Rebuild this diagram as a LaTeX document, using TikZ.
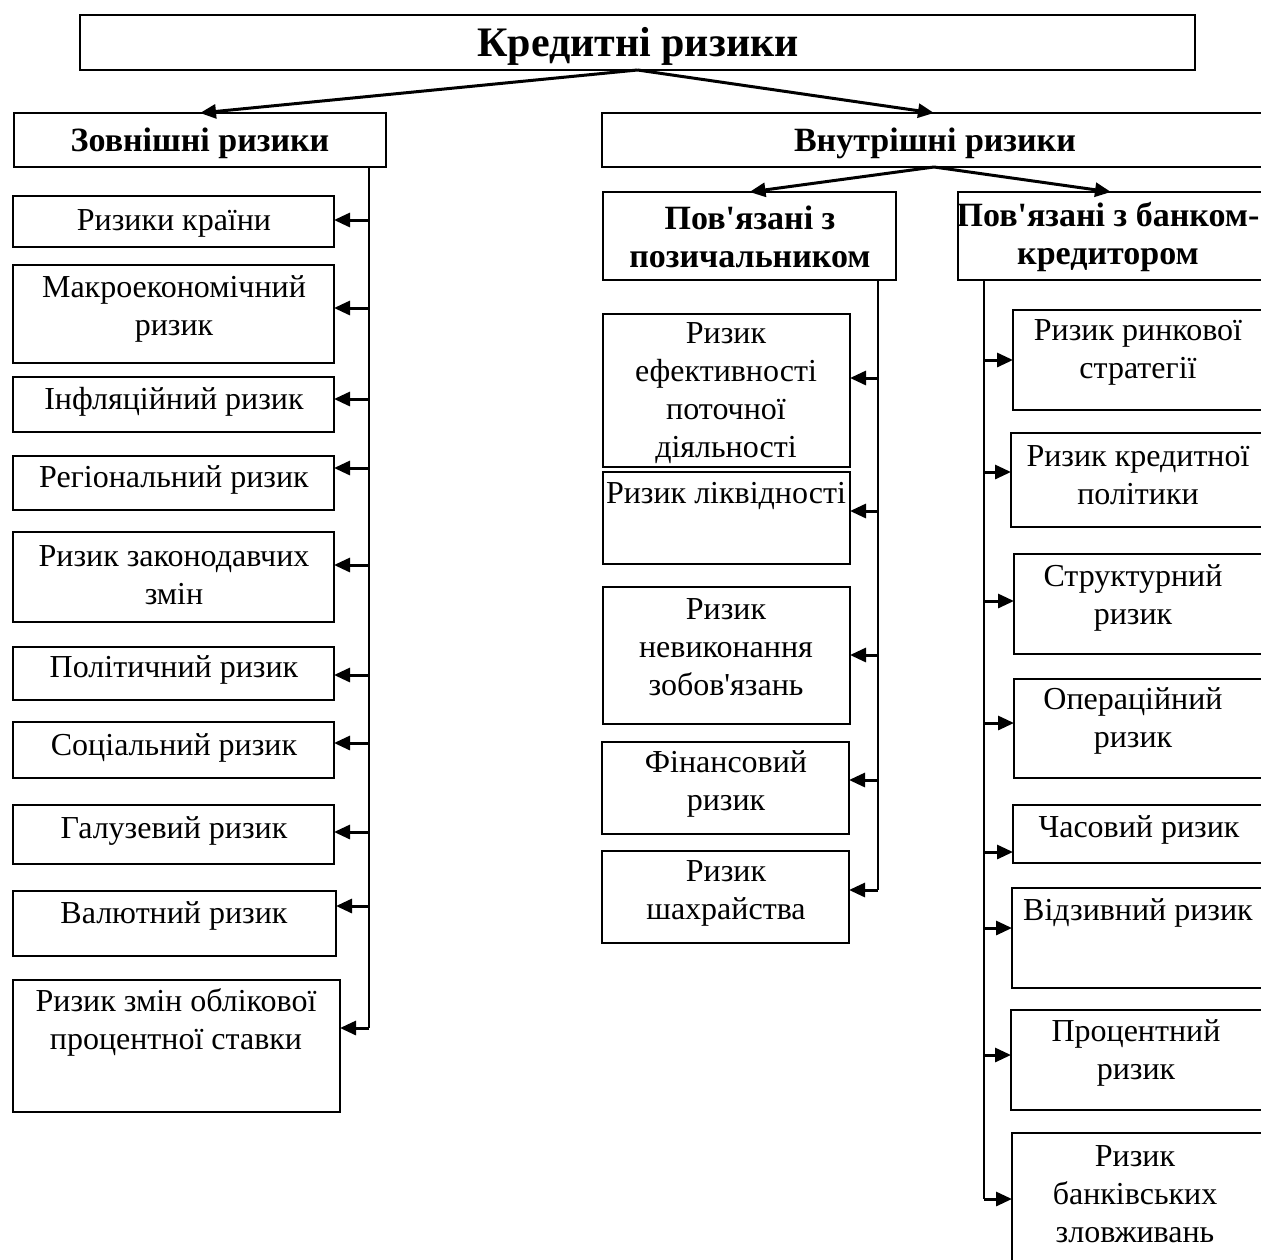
\documentclass[tikz,border=0pt]{standalone}
\usepackage{fontspec}
\setmainfont{Liberation Serif}
\usetikzlibrary{arrows.meta}
\newcommand\mybox[5]{%
  \pgfmathsetmacro\myw{#3-#2}\pgfmathsetmacro\myh{#5-#4}%
  \pgfmathsetmacro\mycx{(#2+#3)/2}\pgfmathsetmacro\mycy{(#4+#5)/2}%
  \node[box, minimum width=\myw pt, minimum height=\myh pt] (#1) at (\mycx,\mycy) {};}
\newcommand\ap{\textquotesingle}
\begin{document}
\begin{tikzpicture}[x=1pt,y=-1pt,
  box/.style={draw, line width=2pt, inner sep=0pt, outer sep=0pt},
  lbl/.style={font=\fontsize{32}{38}\selectfont, align=center, inner sep=0pt, yshift=-3pt},
  hdr/.style={font=\fontsize{34}{38}\selectfont\bfseries, align=center, inner sep=0pt, yshift=-3pt},
  ttl/.style={font=\fontsize{42}{48}\selectfont\bfseries, inner sep=0pt},
  bus/.style={line width=2.2pt},
  arr/.style={line width=3pt, -{Triangle[length=16pt,width=14pt]}}]
\useasboundingbox (0,0) rectangle (1261,1259);
\clip (0,0) rectangle (1261,1259);

% top level
\mybox{title}{80}{1195}{15}{70}
\node[ttl] (ttitle) at (638,46) {Кредитні ризики};
\mybox{ext}{14}{386}{113}{167}
\node[hdr] (text) at (200,140) {Зовнішні ризики};
\mybox{int}{602}{1266}{113}{167}
\node[hdr] (tint) at (935,140) {Внутрішні ризики};
\draw[arr] (title.south) -- (ext.north);
\draw[arr] (title.south) -- (int.north);

% left column
\mybox{kr}{13}{334}{196}{247}
\node[lbl] (tkr) at (174,220) {Ризики країни};
\mybox{makro}{13}{334}{265}{363}
\node[lbl] (tmakro) at (174,306) {Макроекономічний\\ризик};
\mybox{infl}{13}{334}{377}{432}
\node[lbl] (tinfl) at (174,399) {Інфляційний ризик};
\mybox{reg}{13}{334}{456}{510}
\node[lbl] (treg) at (174,477) {Регіональний ризик};
\mybox{zak}{13}{334}{532}{622}
\node[lbl] (tzak) at (174,572) {Ризик законодавчих\\змін};
\mybox{pol}{13}{334}{647}{700}
\node[lbl] (tpol) at (174,667) {Політичний ризик};
\mybox{soc}{13}{334}{722}{778}
\node[lbl] (tsoc) at (174,745) {Соціальний ризик};
\mybox{gal}{13}{334}{805}{864}
\node[lbl] (tgal) at (174,828) {Галузевий ризик};
\mybox{val}{13}{336}{891}{956}
\node[lbl] (tval) at (174,913) {Валютний ризик};
\mybox{zmin}{13}{340}{980}{1112}
\node[lbl] (tzmin) at (176,1019) {Ризик змін облікової\\процентної ставки};

\coordinate (L) at (369,0);
\draw[bus] (ext.south -| L) -- (L |- 0,1028);
\draw[arr] (L |- 0,220) -- (kr.east |- 0,220);
\draw[arr] (L |- 0,308) -- (makro.east |- 0,308);
\draw[arr] (L |- 0,399) -- (infl.east |- 0,399);
\draw[arr] (L |- 0,468) -- (reg.east |- 0,468);
\draw[arr] (L |- 0,565) -- (zak.east |- 0,565);
\draw[arr] (L |- 0,675) -- (pol.east |- 0,675);
\draw[arr] (L |- 0,743) -- (soc.east |- 0,743);
\draw[arr] (L |- 0,832) -- (gal.east |- 0,832);
\draw[arr] (L |- 0,906) -- (val.east |- 0,906);
\draw[arr] (L |- 0,1028) -- (zmin.east |- 0,1028);

% internal: second level
\mybox{bor}{603}{896}{192}{280}
\node[hdr] (tbor) at (750,234) {Пов\ap язані з\\позичальником};
\mybox{bnk}{958}{1264}{192}{280}
\node[hdr] (tbnk) at (1108,234) {Пов\ap язані з банком-\\кредитором};
\draw[arr] (int.south) -- (bor.north);
\draw[arr] (int.south) -- (bnk.north);

% middle column
\mybox{ef}{603}{850}{314}{467}
\node[lbl] (tef) at (726,390) {Ризик\\ефективності\\поточної\\діяльності};
\mybox{likv}{603}{850}{472}{564}
\node[lbl] (tlikv) at (726,493) {Ризик ліквідності};
\mybox{nev}{603}{850}{587}{724}
\node[lbl] (tnev) at (726,644) {Ризик\\невиконання\\зобов\ap язань};
\mybox{fin}{602}{849}{742}{834}
\node[lbl] (tfin) at (726,781) {Фінансовий\\ризик};
\mybox{shakh}{602}{849}{851}{943}
\node[lbl] (tshakh) at (726,890) {Ризик\\шахрайства};

\coordinate (M) at (878,0);
\draw[bus] (bor.south -| M) -- (M |- 0,890);
\draw[arr] (M |- 0,378) -- (ef.east |- 0,378);
\draw[arr] (M |- 0,511) -- (likv.east |- 0,511);
\draw[arr] (M |- 0,655) -- (nev.east |- 0,655);
\draw[arr] (M |- 0,780) -- (fin.east |- 0,780);
\draw[arr] (M |- 0,890) -- (shakh.east |- 0,890);

% right column
\mybox{rynk}{1013}{1264}{310}{410}
\node[lbl] (trynk) at (1138,349) {Ризик ринкової\\стратегії};
\mybox{kred}{1011}{1264}{433}{527}
\node[lbl] (tkred) at (1138,472) {Ризик кредитної\\політики};
\mybox{str}{1014}{1264}{554}{654}
\node[lbl] (tstr) at (1133,595) {Структурний\\ризик};
\mybox{oper}{1014}{1264}{679}{778}
\node[lbl] (toper) at (1133,718) {Операційний\\ризик};
\mybox{chas}{1013}{1264}{805}{863}
\node[lbl] (tchas) at (1139,827) {Часовий ризик};
\mybox{vidz}{1012}{1264}{888}{988}
\node[lbl] (tvidz) at (1138,910) {Відзивний ризик};
\mybox{proc}{1011}{1264}{1010}{1110}
\node[lbl] (tproc) at (1136,1050) {Процентний\\ризик};
\mybox{bankiv}{1012}{1264}{1133}{1275}
\node[lbl] (tbankiv) at (1135,1191) {Ризик\\банківських\\зловживань};

\coordinate (R) at (984,0);
\draw[bus] (bnk.south -| R) -- (R |- 0,1199);
\draw[arr] (R |- 0,360) -- (rynk.west |- 0,360);
\draw[arr] (R |- 0,472) -- (kred.west |- 0,472);
\draw[arr] (R |- 0,601) -- (str.west |- 0,601);
\draw[arr] (R |- 0,723) -- (oper.west |- 0,723);
\draw[arr] (R |- 0,852) -- (chas.west |- 0,852);
\draw[arr] (R |- 0,928) -- (vidz.west |- 0,928);
\draw[arr] (R |- 0,1055) -- (proc.west |- 0,1055);
\draw[arr] (R |- 0,1199) -- (bankiv.west |- 0,1199);
\end{tikzpicture}
\end{document}
